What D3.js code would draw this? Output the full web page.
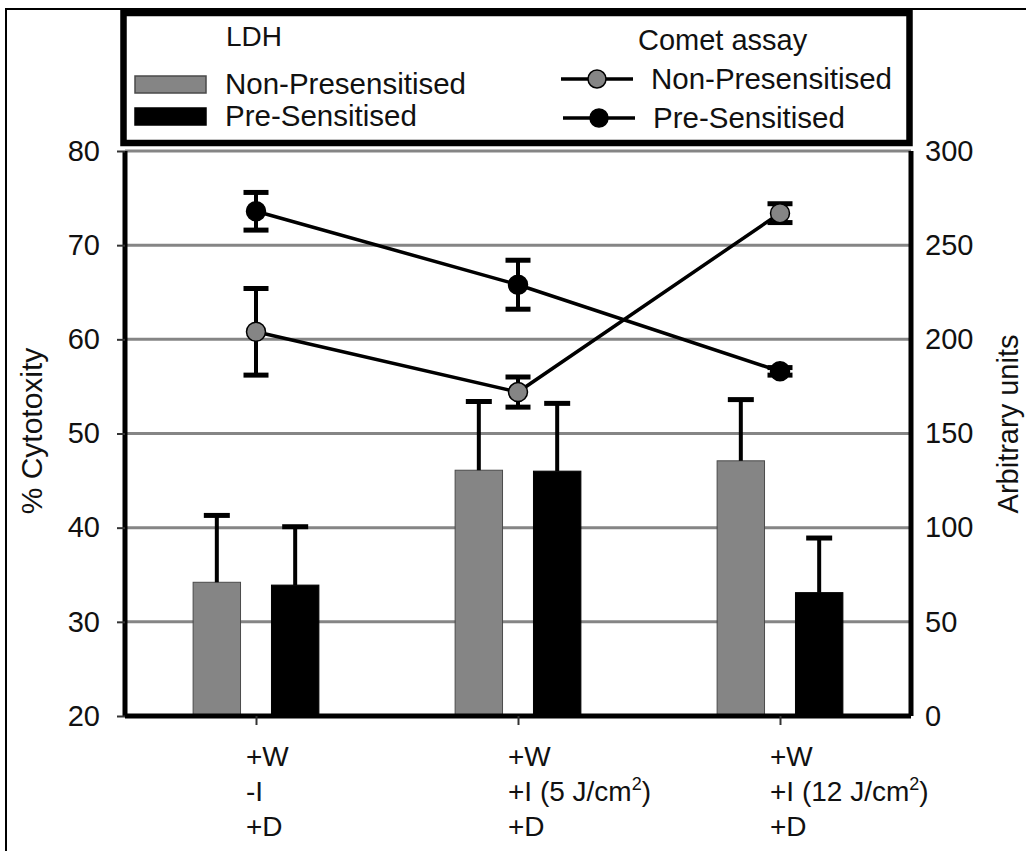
<!DOCTYPE html>
<html>
<head>
<meta charset="utf-8">
<script src="https://cdn.jsdelivr.net/npm/d3@7"></script>
<style>
  body { margin: 0; background: #fff; }
  svg text { font-family: "Liberation Sans", Arial, Helvetica, sans-serif; fill: #111; }
</style>
</head>
<body>
<div id="chart"></div>
<script>
// category labels (one line per entry, ^ marks a superscript)
var categoryLines = [
  ["+W", "-I", "+D"],
  ["+W", "+I (5 J/cm^2)", "+D"],
  ["+W", "+I (12 J/cm^2)", "+D"]
];

// LDH (% cytotoxity, left axis)
var ldhNon = [34.2, 46.1, 47.1];
var ldhNonErr = [7.1, 7.3, 6.5];
var ldhPre = [33.9, 46.0, 33.1];
var ldhPreErr = [6.2, 7.2, 5.8];

// comet assay (arbitrary units, right axis)
var cometNon = [204, 172, 267];
var cometNonErr = [23, 8, 5];
var cometPre = [268, 229, 183];
var cometPreErr = [10, 13, 2];

var leftTicks = [20, 30, 40, 50, 60, 70, 80];
var rightTicks = [0, 50, 100, 150, 200, 250, 300];

var grey = "#858585";

var width = 1026, height = 851;
var plot = {left: 125, right: 911, top: 151, bottom: 716};

var svg = d3.select("#chart").append("svg")
    .attr("width", width)
    .attr("height", height);

// outer frame
svg.append("rect")
    .attr("x", 6).attr("y", 9)
    .attr("width", 1100).attr("height", 1000)
    .attr("fill", "none")
    .attr("stroke", "#000")
    .attr("stroke-width", 2);

// scales
var x0 = d3.scaleBand()
    .domain(d3.range(categoryLines.length))
    .range([plot.left, plot.right])
    .paddingInner(0.52)
    .paddingOuter(0.26);

var x1 = d3.scaleBand()
    .domain(["non", "pre"])
    .range([0, x0.bandwidth()])
    .paddingInner(0.395);

var yL = d3.scaleLinear().domain([20, 80]).range([plot.bottom, plot.top]);
var yR = d3.scaleLinear().domain([0, 300]).range([plot.bottom, plot.top]);

var cx = i => x0(i) + x0.bandwidth() / 2;

// gridlines
svg.append("g")
    .selectAll("line")
    .data(leftTicks.filter(d => d > 20))
    .join("line")
    .attr("x1", plot.left).attr("x2", plot.right)
    .attr("y1", d => yL(d)).attr("y2", d => yL(d))
    .attr("stroke", grey)
    .attr("stroke-width", 3);

// bars
var barData = [];
for (var i = 0; i < categoryLines.length; i++) {
  barData.push({i: i, key: "non", v: ldhNon[i], e: ldhNonErr[i]});
  barData.push({i: i, key: "pre", v: ldhPre[i], e: ldhPreErr[i]});
}

svg.append("g")
    .selectAll("rect")
    .data(barData)
    .join("rect")
    .attr("x", d => x0(d.i) + x1(d.key))
    .attr("y", d => yL(d.v))
    .attr("width", x1.bandwidth())
    .attr("height", d => yL(20) - yL(d.v))
    .attr("fill", d => d.key == "non" ? grey : "#000")
    .attr("stroke", d => d.key == "non" ? "#4a4a4a" : "#000")
    .attr("stroke-width", 1);

// bar error bars (upper only)
var barErr = svg.append("g")
    .attr("stroke", "#000")
    .attr("stroke-width", 4);

barErr.selectAll(".stem")
    .data(barData)
    .join("line")
    .attr("class", "stem")
    .attr("x1", d => x0(d.i) + x1(d.key) + x1.bandwidth() / 2)
    .attr("x2", d => x0(d.i) + x1(d.key) + x1.bandwidth() / 2)
    .attr("y1", d => yL(d.v))
    .attr("y2", d => yL(d.v + d.e));

barErr.selectAll(".cap")
    .data(barData)
    .join("line")
    .attr("class", "cap")
    .attr("stroke-width", 5)
    .attr("x1", d => x0(d.i) + x1(d.key) + x1.bandwidth() / 2 - 13)
    .attr("x2", d => x0(d.i) + x1(d.key) + x1.bandwidth() / 2 + 13)
    .attr("y1", d => yL(d.v + d.e))
    .attr("y2", d => yL(d.v + d.e));

// axes
var axisL = svg.append("g")
    .attr("transform", "translate(" + plot.left + ",0)")
    .call(d3.axisLeft(yL).tickValues(leftTicks).tickSizeInner(8).tickSizeOuter(0).tickPadding(17));

var axisR = svg.append("g")
    .attr("transform", "translate(" + plot.right + ",0)")
    .call(d3.axisRight(yR).tickValues(rightTicks).tickSize(0).tickPadding(14));

var axisB = svg.append("g")
    .attr("transform", "translate(0," + plot.bottom + ")")
    .call(d3.axisBottom(d3.scalePoint().domain(d3.range(3)).range([cx(0), cx(2)]))
        .tickSizeInner(9).tickSizeOuter(0).tickFormat(""));

[axisL, axisR, axisB].forEach(function(a) {
  a.select(".domain").attr("stroke", "#000").attr("stroke-width", 5);
  a.selectAll(".tick line").attr("stroke", "#333").attr("stroke-width", 2);
  a.selectAll(".tick text")
      .style("font-size", "29px")
      .attr("fill", "#111");
});
axisB.select(".domain").attr("d", "M" + plot.left + ",0H" + plot.right);
axisL.select(".domain").attr("d", "M0," + plot.bottom + "V" + plot.top);
axisR.select(".domain").attr("d", "M0," + plot.bottom + "V" + plot.top);

// multi-line category labels
var catLabel = svg.append("g")
    .selectAll("text")
    .data(categoryLines)
    .join("text")
    .attr("x", (d, i) => cx(i) - 10)
    .attr("y", 766)
    .style("font-size", "28px");

catLabel.each(function(lines) {
  var t = d3.select(this);
  lines.forEach(function(line, k) {
    var parts = line.split("^");
    t.append("tspan")
        .attr("x", t.attr("x"))
        .attr("dy", k == 0 ? 0 : 35)
        .text(parts[0]);
    if (parts.length > 1) {
      t.append("tspan")
          .attr("dy", -11)
          .style("font-size", "18px")
          .text(parts[1].charAt(0));
      t.append("tspan")
          .attr("dy", 11)
          .text(parts[1].slice(1));
    }
  });
});

// comet assay lines
var series = [
  {vals: cometNon, errs: cometNonErr, fill: grey},
  {vals: cometPre, errs: cometPreErr, fill: "#000"}
];

var line = d3.line()
    .x((d, i) => cx(i))
    .y(d => yR(d));

series.forEach(function(s) {
  var g = svg.append("g");

  g.append("path")
      .attr("d", line(s.vals))
      .attr("fill", "none")
      .attr("stroke", "#000")
      .attr("stroke-width", 3.5);

  var pts = s.vals.map((v, i) => ({i: i, v: v, e: s.errs[i]}));

  g.selectAll(".stem")
      .data(pts)
      .join("line")
      .attr("class", "stem")
      .attr("x1", d => cx(d.i)).attr("x2", d => cx(d.i))
      .attr("y1", d => yR(d.v - d.e)).attr("y2", d => yR(d.v + d.e))
      .attr("stroke", "#000")
      .attr("stroke-width", 4);

  g.selectAll(".cap")
      .data(pts.flatMap(d => [d.v - d.e, d.v + d.e].map(y => ({i: d.i, y: y}))))
      .join("line")
      .attr("class", "cap")
      .attr("x1", d => cx(d.i) - 12.5).attr("x2", d => cx(d.i) + 12.5)
      .attr("y1", d => yR(d.y)).attr("y2", d => yR(d.y))
      .attr("stroke", "#000")
      .attr("stroke-width", 5);

  g.selectAll("circle")
      .data(pts)
      .join("circle")
      .attr("cx", d => cx(d.i))
      .attr("cy", d => yR(d.v))
      .attr("r", 9.5)
      .attr("fill", s.fill)
      .attr("stroke", "#000")
      .attr("stroke-width", 1.5);
});

// axis titles
svg.append("text")
    .attr("transform", "translate(42,431) rotate(-90)")
    .attr("text-anchor", "middle")
    .style("font-size", "30px")
    .text("% Cytotoxity");

svg.append("text")
    .attr("transform", "translate(1018,424) rotate(-90)")
    .attr("text-anchor", "middle")
    .style("font-size", "29px")
    .text("Arbitrary units");

// legend box
var legend = svg.append("g");

legend.append("rect")
    .attr("x", 123.5).attr("y", 13)
    .attr("width", 786).attr("height", 130)
    .attr("fill", "#fff")
    .attr("stroke", "#000")
    .attr("stroke-width", 6.5);

legend.append("text")
    .attr("x", 226).attr("y", 46)
    .style("font-size", "28px")
    .text("LDH");

legend.append("text")
    .attr("x", 638).attr("y", 50)
    .style("font-size", "29px")
    .text("Comet assay");

var barKeys = [
  {label: "Non-Presensitised", fill: grey, stroke: "#4a4a4a", y: 76},
  {label: "Pre-Sensitised", fill: "#000", stroke: "#000", y: 108}
];

barKeys.forEach(function(k) {
  legend.append("rect")
      .attr("x", 135).attr("y", k.y)
      .attr("width", 71).attr("height", 17)
      .attr("fill", k.fill)
      .attr("stroke", k.stroke)
      .attr("stroke-width", 1.5);
  legend.append("text")
      .attr("x", 225).attr("y", k.y + 18)
      .style("font-size", "29.5px")
      .text(k.label);
});

var lineKeys = [
  {label: "Non-Presensitised", fill: grey, y: 79, x: 561, tx: 651},
  {label: "Pre-Sensitised", fill: "#000", y: 118, x: 563, tx: 653}
];

lineKeys.forEach(function(k) {
  legend.append("line")
      .attr("x1", k.x).attr("x2", k.x + 72)
      .attr("y1", k.y).attr("y2", k.y)
      .attr("stroke", "#000")
      .attr("stroke-width", 3.5);
  legend.append("circle")
      .attr("cx", k.x + 36).attr("cy", k.y)
      .attr("r", 9)
      .attr("fill", k.fill)
      .attr("stroke", "#000")
      .attr("stroke-width", 1.5);
  legend.append("text")
      .attr("x", k.tx).attr("y", k.y + 10)
      .style("font-size", "29.5px")
      .text(k.label);
});
</script>
</body>
</html>
